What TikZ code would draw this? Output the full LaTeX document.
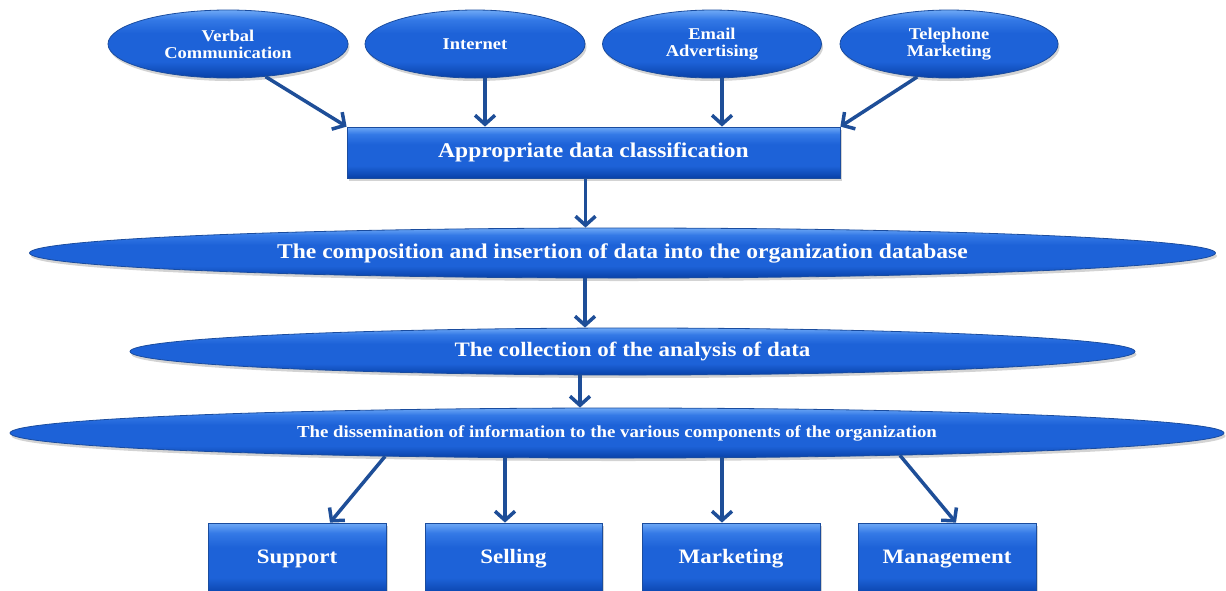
\documentclass[tikz,border=0pt]{standalone}
\usepackage{fontspec}
\setmainfont{Liberation Serif}[FakeStretch=1.12]
\usetikzlibrary{arrows.meta,shadows,shapes.geometric,calc}
\definecolor{btop}{HTML}{6EA9F6}
\definecolor{bup}{HTML}{3479E6}
\definecolor{bmid}{HTML}{1D62D8}
\definecolor{bbot}{HTML}{0841A8}
\definecolor{bline}{HTML}{1A4C9E}
\definecolor{arrc}{HTML}{1E4E98}
\pgfdeclareverticalshading{bluegrad}{100bp}{color(0bp)=(bbot); color(25bp)=(bbot); color(37bp)=(bmid); color(58bp)=(bmid); color(68bp)=(bup); color(75bp)=(btop); color(100bp)=(btop)}
\tikzset{
  blueshade/.style={shading=bluegrad, draw=bline, line width=0.8pt,
    drop shadow={shadow xshift=1.5pt, shadow yshift=-3pt, opacity=0.35}},
  lbl/.style={text=white, align=center, inner sep=0pt},
  topell/.style={ellipse, blueshade, lbl, minimum width=240pt, minimum height=68pt,
    font=\bfseries\fontsize{16.5}{17}\selectfont},
  longell/.style={ellipse, blueshade, lbl, font=\bfseries\fontsize{20}{22}\selectfont},
  boxnode/.style={rectangle, blueshade, lbl, font=\bfseries\fontsize{20.5}{22}\selectfont},
  arr/.style={draw=arrc, line width=3.5pt, -{Straight Barb[length=9pt,width=20pt]}},
}
\begin{document}
\begin{tikzpicture}[x=1pt,y=-1pt]
\clip (0,0) rectangle (1226,590);
% top sources
\node[topell] (v1) at (228,44) {Verbal\\Communication};
\node[topell, minimum width=220pt] (v2) at (475,44) {Internet};
\node[topell, minimum width=219pt] (v3) at (712,44) {Email\\Advertising};
\node[topell, minimum width=218pt] (v4) at (949,44) {Telephone\\Marketing};
% classification
\node[boxnode, minimum width=493pt, minimum height=51pt, font=\bfseries\fontsize{21}{22}\selectfont] (cls) at (593.5,152.5) {Appropriate data classification};
% long ellipses
\node[longell, minimum width=1186pt, minimum height=50pt, font=\bfseries\fontsize{21}{22}\selectfont] (e2) at (622.5,253) {The composition and insertion of data into the organization database};
\node[longell, minimum width=1005pt, minimum height=47pt, font=\bfseries\fontsize{20.5}{22}\selectfont] (e3) at (632.5,351.5) {The collection of the analysis of data};
\node[longell, minimum width=1214pt, minimum height=50pt, font=\bfseries\fontsize{16.8}{18}\selectfont] (e4) at (617,433) {The dissemination of information to the various components of the organization};
% bottom boxes
\node[boxnode, minimum width=178pt, minimum height=72pt] (b1) at (297,559) {Support};
\node[boxnode, minimum width=177pt, minimum height=72pt] (b2) at (513.5,559) {Selling};
\node[boxnode, minimum width=178pt, minimum height=72pt] (b3) at (731,559) {Marketing};
\node[boxnode, minimum width=178pt, minimum height=72pt] (b4) at (947,559) {Management};
% arrows
\draw[arr] (v1.-41) -- (cls.north west);
\draw[arr] ([xshift=10pt]v2.south) -- ([xshift=10pt]v2.south |- cls.north);
\draw[arr] ([xshift=10pt]v3.south) -- ([xshift=10pt]v3.south |- cls.north);
\draw[arr] (v4.-134) -- (cls.north east);
\draw[arr] ([xshift=-8pt]cls.south) -- ([xshift=-8pt]cls.south |- e2.north);
\draw[arr] ([xshift=-37.5pt]e2.south) -- ([xshift=-37.5pt]e2.south |- e3.north);
\draw[arr] ([xshift=-52.5pt]e3.south) -- ([xshift=-52.5pt]e3.south |- e4.north);
\draw[arr] ([xshift=-232pt,yshift=2pt]e4.south) -- ([xshift=33pt]b1.north);
\draw[arr] ([xshift=-112pt]e4.south) -- ([xshift=-8.5pt]b2.north);
\draw[arr] ([xshift=105pt]e4.south) -- ([xshift=-9pt]b3.north);
\draw[arr] ([xshift=283pt,yshift=3pt]e4.south) -- ([xshift=9pt]b4.north);
\end{tikzpicture}
\end{document}
